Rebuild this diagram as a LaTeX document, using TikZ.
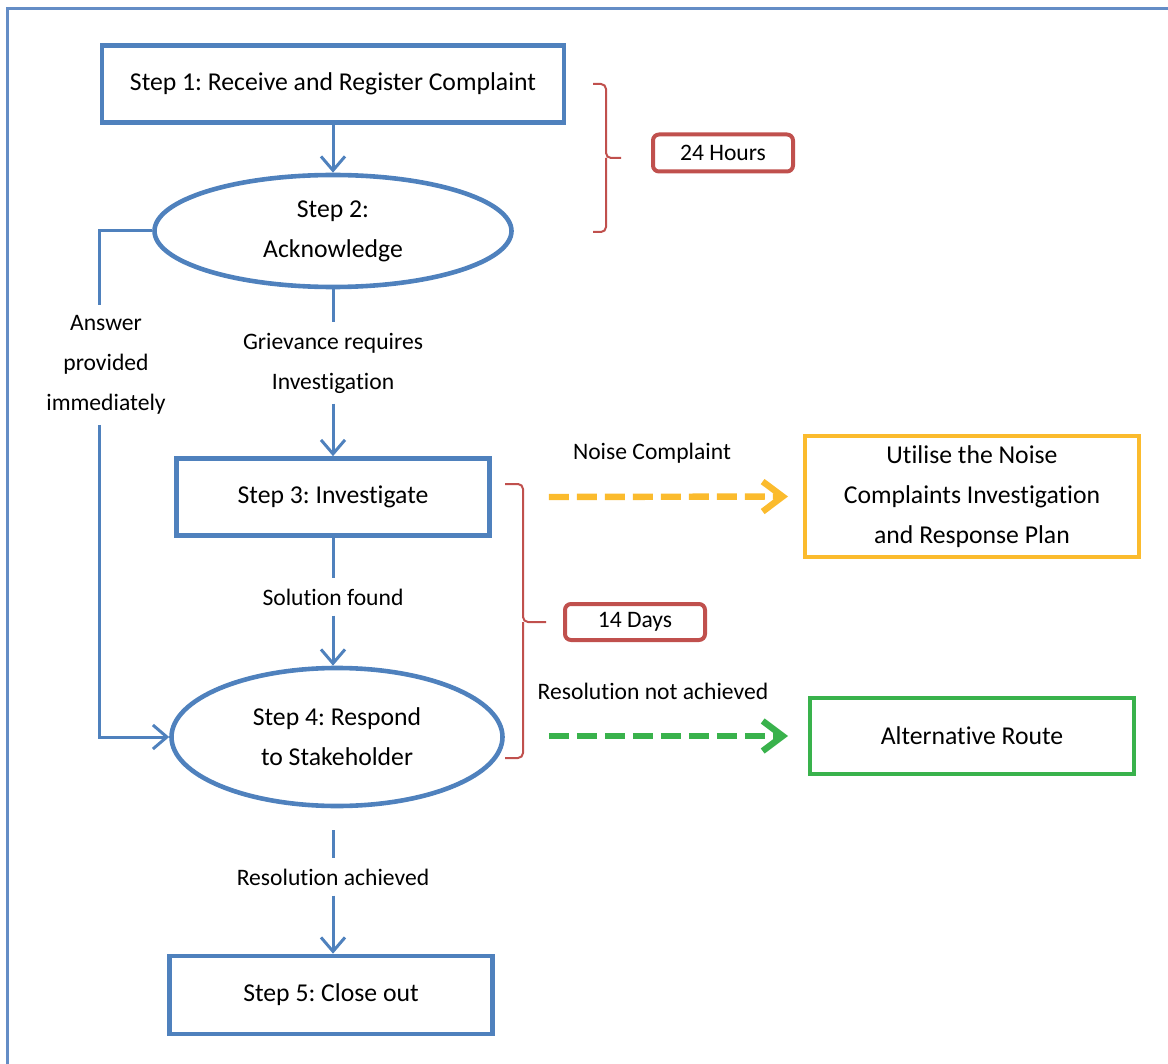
\documentclass[tikz,border=0pt]{standalone}
\usepackage{fontspec}
\setmainfont{Carlito}[Ligatures=NoCommon]
\usepackage{xcolor}
\usepackage{tikz}
\usetikzlibrary{positioning,arrows.meta,shapes.geometric}
\definecolor{stepblue}{RGB}{79,129,189}
\definecolor{frameblue}{RGB}{100,141,198}
\definecolor{timered}{RGB}{192,80,77}
\definecolor{noiseyellow}{RGB}{251,187,45}
\definecolor{altgreen}{RGB}{57,178,76}
\frenchspacing

\begin{document}
\begin{tikzpicture}[x=0.5pt,y=-0.5pt,
  every node/.style={font=\fontsize{12.85}{20}\selectfont,align=center},
  stepbox/.style={draw=stepblue,line width=2.3pt,rectangle,inner sep=0pt},
  stepoval/.style={draw=stepblue,line width=2.3pt,ellipse,inner sep=0pt},
  timebox/.style={draw=timered,line width=2pt,rounded corners=3pt,inner sep=0pt,
    minimum width=70pt,minimum height=18.5pt,font=\fontsize{11.8}{20}\selectfont},
  lbl/.style={font=\fontsize{11.8}{20}\selectfont,inner sep=5pt},
  flow/.style={draw=stepblue,line width=1.5pt},
  flowto/.style={flow,-{Straight Barb[length=7pt,width=12pt]}},
  brk/.style={draw=timered,line width=1pt,rounded corners=2.5pt},
  dasharrow/.style={line width=3.2pt,dash pattern=on 10pt off 4pt,
    -{Straight Barb[length=10pt,width=15pt]}}]
  \clip (0,0) rectangle (1168,1064);
  \draw[frameblue,line width=1.5pt] (7,9) rectangle (1200,1100);

  \node[stepbox,minimum width=231pt,minimum height=38.5pt] (s1) at (333,84) {Step 1: Receive and Register Complaint};
  \node[stepoval,minimum width=178.5pt,minimum height=56pt] (s2) at (333,231) {Step 2:\\Acknowledge};
  \node[lbl] (griev) at (333,363) {Grievance requires\\Investigation};
  \node[lbl] (answer) at (106,365) {Answer\\provided\\immediately};
  \node[stepbox,minimum width=156.5pt,minimum height=38.5pt] (s3) at (333,497) {Step 3: Investigate};
  \node[lbl] (sol) at (333,597) {Solution found};
  \node[stepoval,minimum width=165.5pt,minimum height=69pt] (s4) at (337,737) {Step 4: Respond\\to Stakeholder};
  \node[lbl] (resach) at (333,877) {Resolution achieved};
  \node[stepbox,minimum width=161.5pt,minimum height=39pt] (s5) at (331,995) {Step 5: Close out};

  \node[timebox] (hours) at (723,153) {24 Hours};
  \node[timebox,minimum height=18pt] (days) at (635,622) {14 Days};
  \node[lbl] (noiselbl) at (652,453) {Noise Complaint};
  \node[lbl] (notach) at (653,691) {Resolution not achieved};
  \node[draw=noiseyellow,line width=2pt,inner sep=0pt,minimum width=167pt,minimum height=60.5pt] (noise) at (972,496.5) {Utilise the Noise\\Complaints Investigation\\and Response Plan};
  \node[draw=altgreen,line width=2pt,inner sep=0pt,minimum width=162pt,minimum height=38pt] (alt) at (972,736) {Alternative Route};

  \draw[flowto] (s1.south) -- (s2.north);
  \draw[flow] (s2.south) -- (griev.north);
  \draw[flowto] (griev.south) -- (s3.north);
  \draw[flow] (s2.west) -| ([xshift=-3.5pt]answer.north);
  \draw[flowto] ([xshift=-3.5pt]answer.south) |- (s4.west);
  \draw[flow] (s3.south) -- (sol.north);
  \draw[flowto] (sol.south) -- (sol.south |- s4.north);
  \draw[flow,shorten <=11pt] (s4.south -| resach) -- (resach.north);
  \draw[flowto] (resach.south) -- (s5.north -| resach);

  \draw[dasharrow,noiseyellow] ([xshift=28.5pt]s3.east) -- ([xshift=-7.5pt]noise.west);
  \draw[dasharrow,altgreen] ([xshift=28.5pt]s3.east |- alt) -- ([xshift=-10pt]alt.west);

  \draw[brk] (593,84) -| (606,158) -- (621,158) (606,158) |- (593,232);
  \draw[brk] (505,484) -| (523,622) -- (546,622) (523,622) |- (505,758);
\end{tikzpicture}
\end{document}
